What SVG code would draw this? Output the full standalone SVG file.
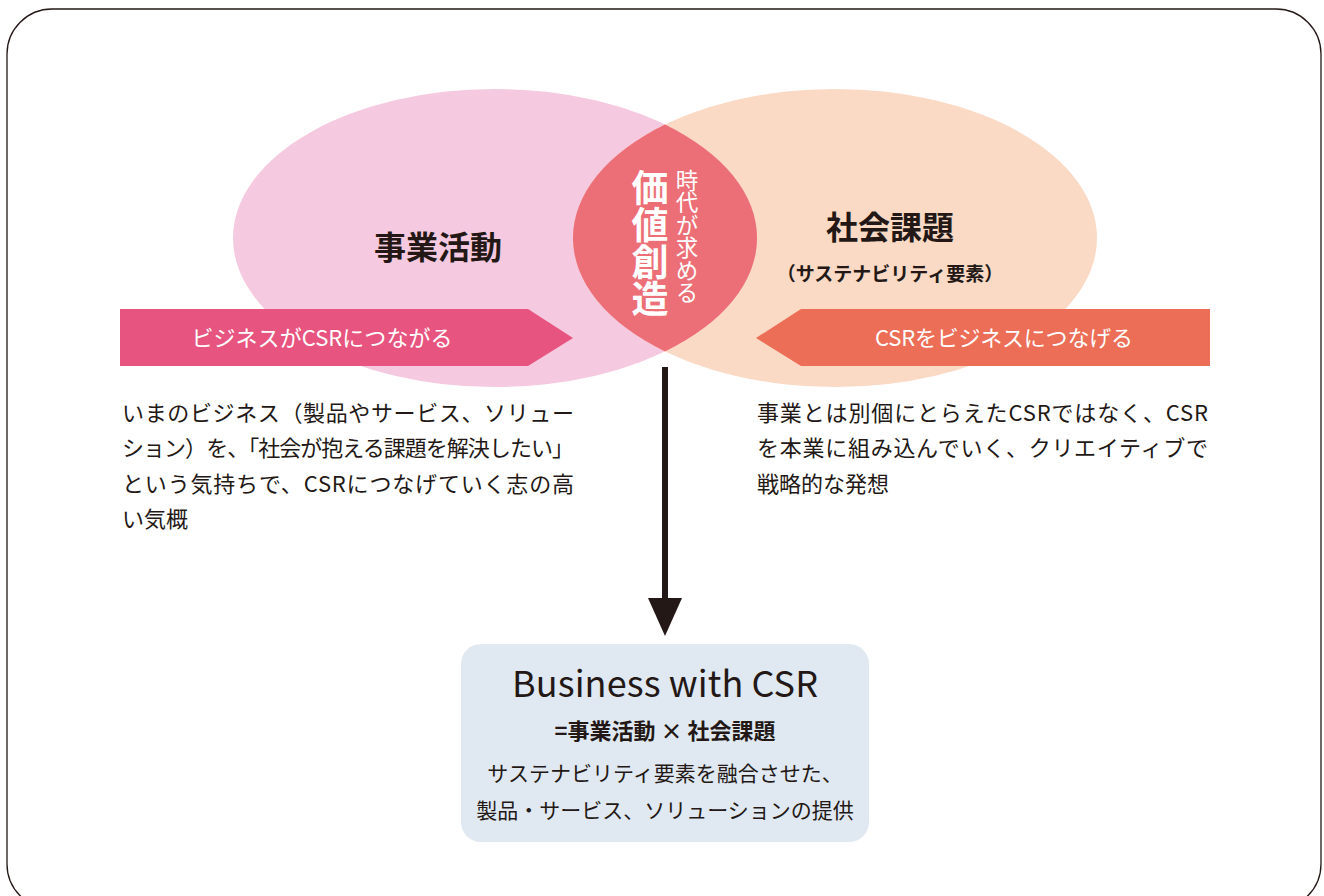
<svg xmlns="http://www.w3.org/2000/svg" width="1324" height="896" viewBox="0 0 1324 896">
<style>
.t{font-family:"Noto Sans CJK JP","Noto Sans",sans-serif;fill:#231815}
.w{font-family:"Noto Sans CJK JP","Noto Sans",sans-serif;fill:#ffffff}
.b{font-weight:bold}
.p{font-size:22px}
.v{writing-mode:vertical-rl;text-anchor:middle}
</style>
<rect width="1324" height="896" fill="#ffffff"/>
<rect id="frame" x="7" y="9" width="1314" height="900" rx="45" ry="45" fill="none" stroke="#231815" stroke-width="1.3"/>
<g id="business-activity">
<ellipse cx="495" cy="238" rx="262" ry="149" fill="#F5C9DF"/>
</g>
<g id="social-issues">
<ellipse cx="835" cy="238" rx="262" ry="149" fill="#FAD9C5"/>
</g>
<g id="value-creation">
<path d="M665,124.6 A262,149 0 0 1 665,351.4 A262,149 0 0 1 665,124.6 Z" fill="#EC6E76"/>
<text class="w b v" x="650" y="243.5" font-size="37">価値創造</text>
<text class="w v" x="687" y="236.5" font-size="22.5">時代が求める</text>
</g>
<g id="banner-left">
<polygon points="120,309 528,309 573,338 528,366 120,366" fill="#E75480"/>
<text class="w" x="322" y="346" font-size="22" text-anchor="middle" textLength="261" lengthAdjust="spacing">ビジネスがCSRにつながる</text>
</g>
<g id="banner-right">
<polygon points="1210,309 801,309 756,338 801,366 1210,366" fill="#EC6E57"/>
<text class="w" x="1004" y="346" font-size="22" text-anchor="middle" textLength="258" lengthAdjust="spacing">CSRをビジネスにつなげる</text>
</g>
<g id="labels">
<text class="t b" x="438" y="259" font-size="32" text-anchor="middle">事業活動</text>
<text class="t b" x="890" y="239" font-size="32" text-anchor="middle">社会課題</text>
<text class="t b" x="890" y="281" font-size="19" text-anchor="middle">（サステナビリティ要素）</text>
</g>
<g id="text-left">
<text class="t p" x="122" y="421" textLength="452" lengthAdjust="spacing">いまのビジネス（製品やサービス、ソリュー</text>
<text class="t p" x="122" y="456" textLength="452" lengthAdjust="spacing">ション）を、「社会が抱える課題を解決したい」</text>
<text class="t p" x="122" y="492" textLength="452" lengthAdjust="spacing">という気持ちで、CSRにつなげていく志の高</text>
<text class="t p" x="122" y="527">い気概</text>
</g>
<g id="text-right">
<text class="t p" x="757" y="421" textLength="451" lengthAdjust="spacing">事業とは別個にとらえたCSRではなく、CSR</text>
<text class="t p" x="757" y="456" textLength="451" lengthAdjust="spacing">を本業に組み込んでいく、クリエイティブで</text>
<text class="t p" x="757" y="492">戦略的な発想</text>
</g>
<g id="connectors">
<line x1="665" y1="367" x2="665" y2="602" stroke="#231815" stroke-width="6"/>
<polygon points="648,598 682,598 665,636" fill="#231815"/>
</g>
<g id="result">
<rect x="461" y="644" width="408" height="198" rx="20" ry="20" fill="#E0E9F1"/>
<text class="t" x="665" y="697" font-size="36" text-anchor="middle" textLength="306" lengthAdjust="spacing">Business with CSR</text>
<text class="t b" x="665" y="739" font-size="22" text-anchor="middle">=事業活動 × 社会課題</text>
<text class="t" x="665" y="781" font-size="21" text-anchor="middle">サステナビリティ要素を融合させた、</text>
<text class="t" x="665" y="818" font-size="21" text-anchor="middle">製品・サービス、ソリューションの提供</text>
</g>
</svg>
